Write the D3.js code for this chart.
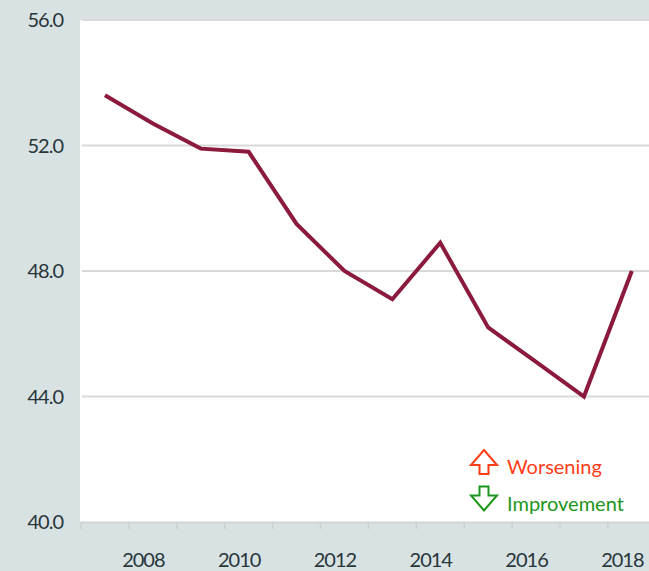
<!DOCTYPE html>
<meta charset="utf-8">
<script src="https://d3js.org/d3.v7.min.js"></script>
<style>
body { margin: 0; background: #d9e2e2; }
text { font-family: Lato, "Open Sans", sans-serif; fill: #28363b; }
</style>
<div id="chart"></div>
<script>

// data
var years = [2007, 2008, 2009, 2010, 2011, 2012, 2013, 2014, 2015, 2016, 2017, 2018];
var values = [53.6, 52.7, 51.9, 51.8, 49.5, 48.0, 47.1, 48.9, 46.2, 45.1, 44.0, 48.0];
var yTicks = [40, 44, 48, 52, 56];
var xLabels = [2008, 2010, 2012, 2014, 2016, 2018];
var legendItems = ["Worsening", "Improvement"];

var W = 649, H = 571;
var plot = {left: 81, top: 20, bottom: 522, right: 81 + 12 * 47.9};

var svg = d3.select("#chart")
  .append("svg")
    .attr("width", W)
    .attr("height", H);

// white plot area
svg.append("rect")
  .attr("x", plot.left - 1)
  .attr("y", plot.top)
  .attr("width", plot.right - plot.left + 1)
  .attr("height", plot.bottom - plot.top)
  .style("fill", "#fff");

var x = d3.scaleBand()
  .domain(years)
  .range([plot.left, plot.right]);

var y = d3.scaleLinear()
  .domain([40, 56])
  .range([plot.bottom, plot.top]);

// gridlines
svg.append("g")
  .selectAll("line")
  .data(yTicks.filter(function(d) { return d > 40; }))
  .enter()
  .append("line")
    .attr("x1", plot.left + 1)
    .attr("x2", plot.right)
    .attr("y1", function(d) { return y(d); })
    .attr("y2", function(d) { return y(d); })
    .attr("stroke", "#d9d9d9")
    .attr("stroke-width", 2);

// Y axis labels
svg.append("g")
  .selectAll("text")
  .data(yTicks)
  .enter()
  .append("text")
    .attr("x", 63)
    .attr("y", function(d) { return y(d); })
    .attr("dy", "0.36em")
    .attr("text-anchor", "end")
    .style("font-size", "20px")
    .style("letter-spacing", "-1px")
    .text(function(d) { return d.toFixed(1); });

// X axis line
svg.append("line")
  .attr("x1", plot.left)
  .attr("x2", plot.right)
  .attr("y1", y(40) + 0.5)
  .attr("y2", y(40) + 0.5)
  .attr("stroke", "#d4d4d4")
  .attr("stroke-width", 2);

// X tick marks at category boundaries
var bounds = years.map(function(d) { return x(d); }).concat([plot.right]);
svg.append("g")
  .selectAll("line")
  .data(bounds)
  .enter()
  .append("line")
    .attr("x1", function(d) { return d; })
    .attr("x2", function(d) { return d; })
    .attr("y1", y(40))
    .attr("y2", y(40) + 7)
    .attr("stroke", "#cfcfcf")
    .attr("stroke-width", 1.5);

// X axis labels
svg.append("g")
  .selectAll("text")
  .data(xLabels)
  .enter()
  .append("text")
    .attr("x", function(d) { return x(d) + x.bandwidth() / 2 - 9.5; })
    .attr("y", 567)
    .attr("text-anchor", "middle")
    .style("font-size", "20px")
    .style("letter-spacing", "-1px")
    .text(function(d) { return d; });

// the line
var line = d3.line()
  .x(function(d, i) { return x(years[i]) + x.bandwidth() / 2; })
  .y(function(d) { return y(d); });

svg.append("path")
  .datum(values)
  .attr("d", line)
  .attr("fill", "none")
  .attr("stroke", "#8b1a3d")
  .attr("stroke-width", 4)
  .attr("stroke-linejoin", "miter");

// legend
var legendColors = ["#ff3d17", "#1c961c"];
var upArrow = "M0,-12 L13,3 L4.5,3 L4.5,12 L-4.5,12 L-4.5,3 L-13,3 Z";
var downArrow = "M0,12 L13,-3 L4.5,-3 L4.5,-12 L-4.5,-12 L-4.5,-3 L-13,-3 Z";

var legend = svg.append("g")
  .selectAll("g")
  .data(legendItems)
  .enter()
  .append("g")
    .attr("transform", function(d, i) { return "translate(484," + (462 + i * 36.5) + ")"; });

legend.append("path")
  .attr("d", function(d, i) { return i === 0 ? upArrow : downArrow; })
  .attr("fill", "#fff")
  .attr("stroke", function(d, i) { return legendColors[i]; })
  .attr("stroke-width", 2);

legend.append("text")
  .attr("x", 23)
  .attr("y", 12)
  .style("font-size", "20px")
  .style("fill", function(d, i) { return legendColors[i]; })
  .text(function(d) { return d; });

</script>
